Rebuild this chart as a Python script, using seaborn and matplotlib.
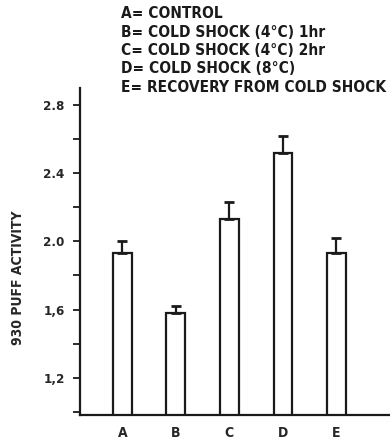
import matplotlib
matplotlib.use("Agg")
import matplotlib.pyplot as plt
import seaborn as sns
import pandas as pd

categories = ["A", "B", "C", "D", "E"]
values = [1.93, 1.58, 2.13, 2.52, 1.93]
errors = [0.07, 0.04, 0.10, 0.10, 0.09]
ytick_values = [1.2, 1.6, 2.0, 2.4, 2.8]
ytick_labels = ["1,2", "1,6", "2.0", "2.4", "2.8"]
legend_lines = [
    "A= CONTROL",
    "B= COLD SHOCK (4°C) 1hr",
    "C= COLD SHOCK (4°C) 2hr",
    "D= COLD SHOCK (8°C)",
    "E= RECOVERY FROM COLD SHOCK",
]
ylabel = "930 PUFF ACTIVITY"

sns.set_style("white")
plt.rcParams["font.family"] = ["DejaVu Sans"]
plt.rcParams["font.weight"] = "bold"

df = pd.DataFrame({"cat": categories, "val": values})

fig = plt.figure(figsize=(3.9, 4.45), dpi=100)
ax = fig.add_axes([0.205, 0.067, 0.795, 0.735])

sns.barplot(data=df, x="cat", y="val", ax=ax, color="white", edgecolor="#1a1a1a",
            linewidth=1.6, width=0.35, errorbar=None)
ax.errorbar(range(len(categories)), values, yerr=[[0] * len(errors), errors],
            fmt="none", ecolor="#1a1a1a", elinewidth=1.6, capsize=3.5, capthick=2)

ax.set_ylim(0.98, 2.9)
ax.set_xlim(-0.79, 5.0)
ax.set_yticks(ytick_values)
ax.set_yticklabels(ytick_labels, fontsize=9.5, fontweight="bold", fontstretch="condensed")
ax.set_yticks([1.0, 1.4, 1.8, 2.2, 2.6], minor=True)
ax.tick_params(axis="y", which="both", direction="out", length=5, width=1.3,
               left=True, color="#1a1a1a", pad=6)
ax.tick_params(axis="x", length=0, pad=8, labelsize=10)
for lbl in ax.get_xticklabels():
    lbl.set_fontweight("bold")
    lbl.set_fontstretch("condensed")

ax.set_xlabel("")
ax.set_ylabel(ylabel, fontsize=10, fontweight="bold", fontstretch="condensed")
ax.yaxis.set_label_coords(-0.177, 0.42)

for s in ["top", "right"]:
    ax.spines[s].set_visible(False)
for s in ["left", "bottom"]:
    ax.spines[s].set_linewidth(1.6)
    ax.spines[s].set_color("#1a1a1a")

for i, line in enumerate(legend_lines):
    fig.text(121 / 390, (445 - 14 - i * 18.3) / 445, line, fontsize=11.1,
             fontweight="bold", fontstretch="condensed", va="center", ha="left",
             color="#1a1a1a")

fig.savefig("out.png", dpi=100)
